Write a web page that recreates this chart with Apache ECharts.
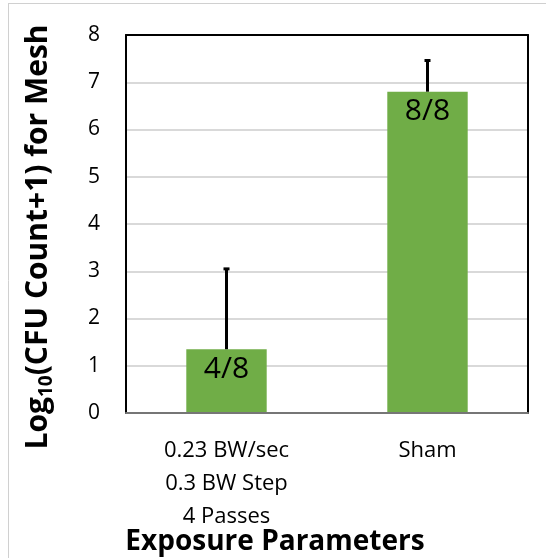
<!DOCTYPE html>
<html>
<head>
<meta charset="utf-8">
<script src="https://cdn.jsdelivr.net/npm/echarts@6/dist/echarts.min.js"></script>
<style>
  html, body { margin: 0; padding: 0; background: #fff; }
  #chart { width: 546px; height: 558px; }
</style>
</head>
<body>
<div id="chart"></div>
<script>
// Exposure groups and their mean log10 counts
const categories = ['0.23 BW/sec\n0.3 BW Step\n4 Passes', 'Sham'];
const meanValues = [1.35, 6.8];
const upperErrors = [3.05, 7.46];     // top of the upper error whisker
const positiveLabels = ['4/8', '8/8'];
const yTicks = [0, 1, 2, 3, 4, 5, 6, 7, 8];

const FONT = '"Open Sans", sans-serif';

const chart = echarts.init(document.getElementById('chart'), null, { renderer: 'canvas' });

const option = {
  animation: false,
  backgroundColor: '#ffffff',
  grid: {
    left: 126, top: 35, right: 18, bottom: 145,
    outerBoundsMode: 'none',
    containLabel: false,
    show: false
  },
  xAxis: [
    {
      type: 'category',
      data: categories,
      axisTick: { show: false },
      axisLine: { show: true, onZero: false, lineStyle: { color: '#767676', width: 2 } },
      axisLabel: {
        color: '#000', fontFamily: FONT, fontSize: 22, lineHeight: 33, margin: 21
      },
      name: 'Exposure Parameters',
      nameLocation: 'middle',
      nameGap: 115,
      nameMoveOverlap: false,
      nameTextStyle: {
        color: '#000', fontFamily: FONT, fontSize: 28, fontWeight: 'bold',
        padding: [0, 104, 0, 0]
      },
      z: 3
    },
    {
      // top edge of the plot frame
      type: 'category',
      data: categories,
      position: 'top',
      axisTick: { show: false },
      axisLabel: { show: false },
      axisLine: { show: true, onZero: false, lineStyle: { color: '#000', width: 2 } }
    }
  ],
  yAxis: [
    {
      type: 'value',
      min: yTicks[0], max: yTicks[yTicks.length - 1], interval: 1,
      axisLine: { show: true, onZero: false, lineStyle: { color: '#000', width: 2 } },
      axisTick: { show: false },
      splitLine: { show: true, showMinLine: false, showMaxLine: false, lineStyle: { color: '#d9d9d9', width: 2 } },
      axisLabel: { color: '#000', fontFamily: FONT, fontSize: 21, margin: 26 },
      name: '{b|Log}{s|10}{b|(CFU Count+1) for Mesh}',
      nameLocation: 'middle',
      nameRotate: 90,
      nameGap: 70,
      nameMoveOverlap: false,
      nameTextStyle: {
        padding: [0, 26, 0, 0],
        rich: {
          b: { fontFamily: FONT, fontSize: 30, fontWeight: 'bold', color: '#000' },
          s: { fontFamily: FONT, fontSize: 19, fontWeight: 'bold', color: '#000', verticalAlign: 'bottom', padding: [16, 0, 0, 0] }
        }
      }
    },
    {
      // right edge of the plot frame
      type: 'value',
      position: 'right',
      min: yTicks[0], max: yTicks[yTicks.length - 1], interval: 1,
      axisLine: { show: true, onZero: false, lineStyle: { color: '#000', width: 2 } },
      axisTick: { show: false },
      axisLabel: { show: false },
      splitLine: { show: false }
    }
  ],
  series: [
    {
      type: 'bar',
      data: meanValues,
      barWidth: '40%',
      itemStyle: { color: '#70ad47' },
      label: {
        show: true,
        position: 'insideTop',
        distance: 5,
        formatter: (p) => positiveLabels[p.dataIndex],
        color: '#000',
        fontFamily: FONT,
        fontSize: 30
      },
      z: 2
    },
    {
      type: 'custom',
      z: 3,
      data: meanValues.map((v, i) => [i, v, upperErrors[i]]),
      renderItem: function (params, api) {
        const base = api.coord([api.value(0), api.value(1)]);
        const top = api.coord([api.value(0), api.value(2)]);
        const capHalf = 3;
        const style = { stroke: '#000', lineWidth: 3 };
        return {
          type: 'group',
          children: [
            { type: 'line', shape: { x1: base[0], y1: base[1], x2: top[0], y2: top[1] }, style: style },
            { type: 'line', shape: { x1: top[0] - capHalf, y1: top[1], x2: top[0] + capHalf, y2: top[1] }, style: style }
          ]
        };
      }
    }
  ],
  graphic: [
    { type: 'line', shape: { x1: 8, y1: 3.5, x2: 546, y2: 3.5 }, style: { stroke: '#d0d0d0', lineWidth: 1 } },
    { type: 'line', shape: { x1: 8.5, y1: 3, x2: 8.5, y2: 558 }, style: { stroke: '#d0d0d0', lineWidth: 1 } }
  ]
};

chart.setOption(option);
</script>
</body>
</html>
